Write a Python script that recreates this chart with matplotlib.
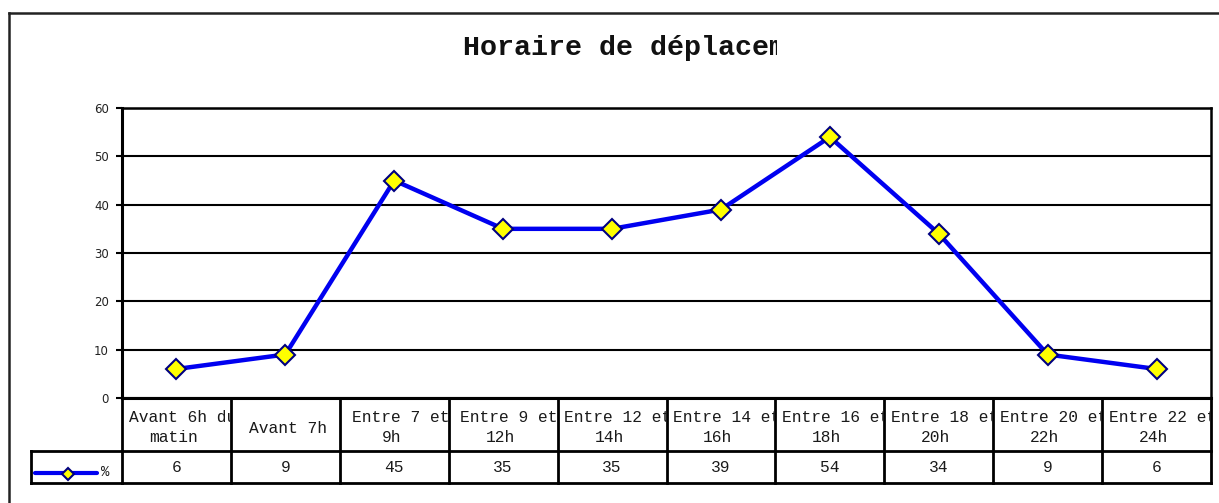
"""Line chart with a data table underneath: Horaire de déplacement."""

import textwrap

import matplotlib

matplotlib.use("Agg")
import matplotlib.pyplot as plt
from matplotlib.lines import Line2D
from matplotlib.transforms import (Bbox, IdentityTransform, TransformedBbox,
                                   blended_transform_factory, offset_copy)

W, H = 1219, 503

TITLE = "Horaire de déplacement"
CATEGORIES = [
    "Avant 6h du matin",
    "Avant 7h",
    "Entre 7 et 9h",
    "Entre 9 et 12h",
    "Entre 12 et 14h",
    "Entre 14 et 16h",
    "Entre 16 et 18h",
    "Entre 18 et 20h",
    "Entre 20 et 22h",
    "Entre 22 et 24h",
]
VALUES = [6, 9, 45, 35, 35, 39, 54, 34, 9, 6]
SERIES_NAME = "%"
Y_TICKS = [0, 10, 20, 30, 40, 50, 60]

LINE_BLUE = "#0000F0"
MARKER_FILL = "#FFFF00"
MARKER_EDGE = "#000080"
MONO = "Liberation Mono"


def fx(x_px):
    return x_px / W


def fy(y_px):
    return 1 - y_px / H


fig = plt.figure(figsize=(W / 100, H / 100), dpi=100)
fig.patch.set_facecolor("white")

# outer chart frame (cut off on the right and bottom like the source)
fig.add_artist(Line2D([fx(8.5), fx(W + 5)], [fy(12.5), fy(12.5)], color="#222222", lw=1.8))
fig.add_artist(Line2D([fx(8.5), fx(8.5)], [fy(12.5), fy(H + 5)], color="#222222", lw=1.8))

# the title is clipped by the chart's text box in the original
title = fig.text(fx(463), fy(55), TITLE, ha="left", va="baseline",
                 fontfamily=MONO, fontweight="bold", fontsize=20.4, color="#111111")
title.set_clip_box(TransformedBbox(Bbox([[0, 0], [777, H]]), IdentityTransform()))
title.set_clip_on(True)

ax = fig.add_axes([fx(122), fy(398), (1211 - 122) / W, (398 - 108) / H])
x = list(range(len(VALUES)))
ax.plot(x, VALUES, color=LINE_BLUE, lw=3.2, marker="D", ms=10.5,
        mfc=MARKER_FILL, mec=MARKER_EDGE, mew=1.5, zorder=3, clip_on=False)
ax.set_xlim(-0.5, len(VALUES) - 0.5)
ax.set_ylim(Y_TICKS[0], Y_TICKS[-1])
ax.set_yticks(Y_TICKS)
ax.set_xticks([])
ax.yaxis.grid(True, color="black", lw=1.5)
ax.set_axisbelow(True)
ax.tick_params(axis="y", length=4.5, width=1.5, pad=5, labelsize=8.5, labelcolor="#222222")
for side, spine in ax.spines.items():
    spine.set_color("black")
    spine.set_linewidth(2.2 if side in ("left", "bottom") else 1.8)

# data table under the axis
trans = blended_transform_factory(ax.transData, fig.transFigure)
row_top, row_mid, row_bot = fy(398), fy(451), fy(483)
table_lw = 2.0
n = len(CATEGORIES)

for i in range(n + 1):
    fig.add_artist(Line2D([i - 0.5, i - 0.5], [row_top, row_bot], transform=trans,
                          color="black", lw=table_lw))
for y in (row_mid, row_bot):
    fig.add_artist(Line2D([-0.5, n - 0.5], [y, y], transform=trans, color="black", lw=table_lw))
    fig.add_artist(Line2D([fx(31), fx(122)], [y, y], color="black", lw=table_lw))
fig.add_artist(Line2D([fx(31), fx(31)], [row_mid, row_bot], color="black", lw=table_lw))

for i, (label, value) in enumerate(zip(CATEGORIES, VALUES)):
    clip = TransformedBbox(Bbox([[i - 0.5, row_mid], [i + 0.5, row_top]]), trans)
    lines = textwrap.wrap(label, 11)
    if len(lines) == 1:
        spots = [(lines[0], 428.5, 3)]
    else:
        spots = [(lines[0], 417.5, 6), (lines[1], 438, -3)]
    for text, y_px, dx in spots:
        t = fig.text(i, fy(y_px), text, transform=offset_copy(trans, fig, x=dx, units="dots"),
                     ha="center", va="center", fontfamily=MONO, fontsize=11.7, color="#1a1a1a")
        t.set_clip_box(clip)
        t.set_clip_on(True)
    fig.text(i, fy(467.5), str(value), transform=trans, ha="center", va="center",
             fontfamily=MONO, fontsize=11.7, color="#1a1a1a")

# legend key in the table's first column
fig.add_artist(Line2D([fx(35), fx(97)], [fy(472.5), fy(472.5)], color=LINE_BLUE, lw=3.0,
                      solid_capstyle="round"))
fig.add_artist(Line2D([fx(68)], [fy(474)], marker="D", ms=6, mfc=MARKER_FILL,
                      mec=MARKER_EDGE, mew=1.5, linestyle="none"))
fig.text(fx(101), fy(472), SERIES_NAME, ha="left", va="center",
         fontfamily=MONO, fontsize=10, color="#1a1a1a")

fig.savefig("out.png", dpi=100)
